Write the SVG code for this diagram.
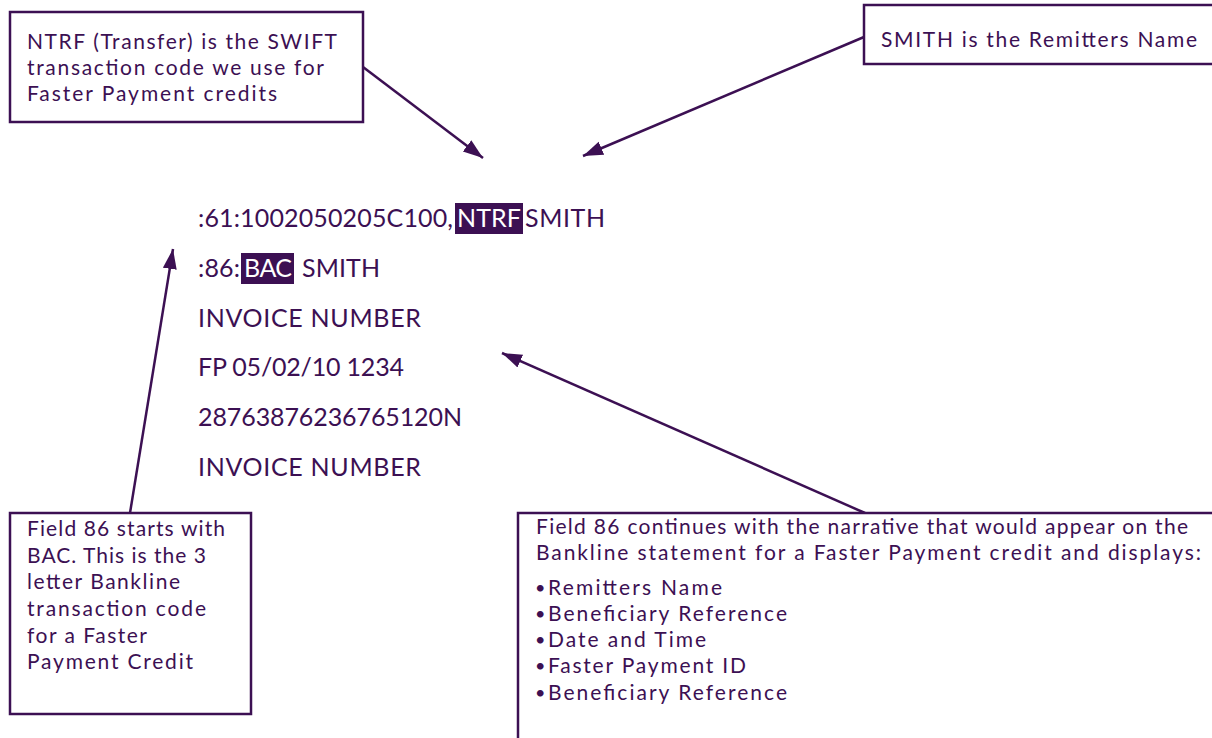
<svg xmlns="http://www.w3.org/2000/svg" width="1212" height="738" viewBox="0 0 1212 738">
<style>
.box{fill:#ffffff;stroke:#3c1053;stroke-width:2.5}
.note{font-family:Lato,"Liberation Sans",sans-serif;font-size:21px;fill:#3c1053}
.code{font-family:Lato,"Liberation Sans",sans-serif;font-size:25px;fill:#3c1053}
.bul{font-size:18px}
.hl{fill:#3c1053}
.hlt{fill:#ffffff}
.conn{stroke:#3c1053;stroke-width:2.5;fill:none;marker-end:url(#ah)}
</style>
<defs>
<marker id="ah" markerUnits="userSpaceOnUse" markerWidth="22" markerHeight="16" refX="20" refY="7" orient="auto">
<path d="M0,0 L20,7 L0,14 Z" fill="#3c1053"/>
</marker>
</defs>
<rect width="1212" height="738" fill="#ffffff"/>
<g id="connectors">
<line class="conn" x1="363" y1="67" x2="483" y2="158"/>
<line class="conn" x1="864" y1="37" x2="583" y2="156"/>
<line class="conn" x1="130" y1="513" x2="173" y2="249"/>
<line class="conn" x1="865" y1="513" x2="502" y2="353"/>
</g>
<g id="note-ntrf">
<rect class="box" x="10" y="12" width="353" height="110"/>
<text class="note" x="27" y="49" textLength="310" lengthAdjust="spacing">NTRF (Transfer) is the SWIFT</text>
<text class="note" x="27" y="75" textLength="297" lengthAdjust="spacing">transaction code we use for</text>
<text class="note" x="27" y="101" textLength="250" lengthAdjust="spacing">Faster Payment credits</text>
</g>
<g id="note-smith">
<rect class="box" x="864" y="5" width="352" height="59"/>
<text class="note" x="881" y="47" textLength="316" lengthAdjust="spacing">SMITH is the Remitters Name</text>
</g>
<g id="statement">
<rect class="hl" x="455" y="203" width="68" height="31"/>
<rect class="hl" x="241" y="253" width="53" height="31"/>
<text class="code" y="227"><tspan x="198" textLength="255" lengthAdjust="spacing">:61:1002050205C100,</tspan><tspan class="hlt" x="457" textLength="64" lengthAdjust="spacing">NTRF</tspan><tspan x="525" textLength="80" lengthAdjust="spacing">SMITH</tspan></text>
<text class="code" y="277"><tspan x="198" textLength="42" lengthAdjust="spacing">:86:</tspan><tspan class="hlt" x="244" textLength="48" lengthAdjust="spacing">BAC</tspan><tspan x="302" textLength="78" lengthAdjust="spacing">SMITH</tspan></text>
<text class="code" x="198" y="327" textLength="223" lengthAdjust="spacing">INVOICE NUMBER</text>
<text class="code" x="198" y="376" textLength="206" lengthAdjust="spacing">FP 05/02/10 1234</text>
<text class="code" x="198" y="426" textLength="264" lengthAdjust="spacing">28763876236765120N</text>
<text class="code" x="198" y="476" textLength="223" lengthAdjust="spacing">INVOICE NUMBER</text>
</g>
<g id="note-bac">
<rect class="box" x="10" y="513" width="241" height="201"/>
<text class="note" x="27" y="536" textLength="198" lengthAdjust="spacing">Field 86 starts with</text>
<text class="note" x="27" y="563" textLength="179" lengthAdjust="spacing">BAC. This is the 3</text>
<text class="note" x="27" y="589" textLength="153" lengthAdjust="spacing">letter Bankline</text>
<text class="note" x="27" y="616" textLength="179" lengthAdjust="spacing">transaction code</text>
<text class="note" x="27" y="643" textLength="120" lengthAdjust="spacing">for a Faster</text>
<text class="note" x="27" y="669" textLength="166" lengthAdjust="spacing">Payment Credit</text>
</g>
<g id="note-narrative">
<rect class="box" x="518" y="513" width="700" height="240"/>
<text class="note" x="536" y="534" textLength="652" lengthAdjust="spacing">Field 86 continues with the narrative that would appear on the</text>
<text class="note" x="536" y="560" textLength="665" lengthAdjust="spacing">Bankline statement for a Faster Payment credit and displays:</text>
<text class="note" y="595"><tspan class="bul" x="535" dy="-1">•</tspan><tspan x="548" dy="1" textLength="174" lengthAdjust="spacing">Remitters Name</tspan></text>
<text class="note" y="621"><tspan class="bul" x="535" dy="-1">•</tspan><tspan x="548" dy="1" textLength="239" lengthAdjust="spacing">Beneficiary Reference</tspan></text>
<text class="note" y="647"><tspan class="bul" x="535" dy="-1">•</tspan><tspan x="548" dy="1" textLength="158" lengthAdjust="spacing">Date and Time</tspan></text>
<text class="note" y="673"><tspan class="bul" x="535" dy="-1">•</tspan><tspan x="548" dy="1" textLength="198" lengthAdjust="spacing">Faster Payment ID</tspan></text>
<text class="note" y="700"><tspan class="bul" x="535" dy="-1">•</tspan><tspan x="548" dy="1" textLength="239" lengthAdjust="spacing">Beneficiary Reference</tspan></text>
</g>
</svg>
